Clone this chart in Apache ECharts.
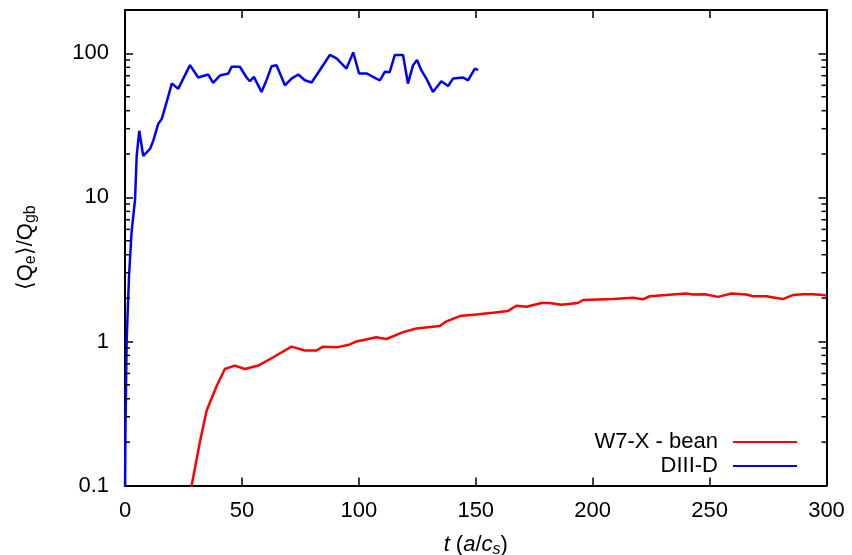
<!DOCTYPE html>
<html>
<head>
<meta charset="utf-8">
<script src="https://cdn.jsdelivr.net/npm/echarts@6/dist/echarts.min.js"></script>
<style>html,body{margin:0;padding:0;background:#fff}#c{width:852px;height:555px}</style>
</head>
<body>
<div id="c"></div>
<script>
// ---- data ----
var seriesNames = ['W7-X - bean', 'DIII-D'];
var redT = [27.5, 28.5, 32.1, 34.9, 39.2, 42.7, 47.0, 51.3, 57.0, 63.4, 71.2, 76.9, 81.9, 84.7, 90.5, 96.2, 99.0, 107.5, 111.8, 118.9, 124.6, 134.6, 137.5, 143.2, 150.3, 153.1, 157.4, 163.8, 167.4, 171.7, 178.1, 181.6, 186.6, 193.7, 195.9, 208.7, 217.2, 221.5, 224.4, 231.5, 240.0, 242.9, 247.9, 253.6, 259.3, 265.7, 268.5, 274.2, 281.3, 285.6, 289.9, 294.2, 298.5, 300];
var redV = [0.08, 0.1, 0.203, 0.33, 0.49, 0.644, 0.68, 0.644, 0.68, 0.777, 0.92, 0.865, 0.865, 0.92, 0.91, 0.953, 1.0, 1.07, 1.04, 1.16, 1.23, 1.28, 1.38, 1.5, 1.54, 1.56, 1.58, 1.63, 1.77, 1.74, 1.85, 1.85, 1.80, 1.85, 1.94, 1.97, 2.01, 1.96, 2.06, 2.1, 2.15, 2.12, 2.13, 2.04, 2.15, 2.12, 2.06, 2.06, 1.97, 2.1, 2.13, 2.13, 2.1, 2.08];
var blueT = [0, 0.2, 0.7, 1.7, 2.8, 4.3, 5.0, 6.1, 7.8, 10.7, 12.1, 14.2, 15.7, 17.8, 20.0, 22.8, 27.8, 31.3, 35.6, 37.7, 40.6, 44.2, 45.6, 49.1, 52.0, 53.4, 55.1, 58.4, 60.5, 62.7, 64.8, 68.4, 71.2, 74.1, 76.9, 79.8, 83.3, 87.6, 90.5, 94.7, 97.6, 100.1, 103.3, 107.5, 109.0, 111.1, 113.2, 115.4, 118.9, 121.0, 123.2, 124.9, 126.7, 128.9, 131.7, 135.3, 138.2, 140.3, 144.6, 146.7, 149.6, 151.0];
var blueV = [0.08, 0.25, 1.0, 2.8, 5.7, 9.7, 19.4, 29, 19.4, 21.7, 24.8, 32.4, 35, 45.9, 61.7, 56.9, 82.8, 68, 71.3, 62.4, 70.2, 72.5, 80.7, 80.7, 68, 64, 68.7, 54, 65, 81.5, 82.8, 60, 66.8, 71.3, 65, 62.8, 76.4, 97.5, 92.3, 78.5, 101.6, 72.5, 72.5, 66.8, 65, 74.5, 74, 97.5, 97.5, 61.7, 82.8, 89.8, 76.4, 66.8, 54, 64, 59.3, 66.8, 68, 65, 78.5, 76.4];
var xTicks = [0, 50, 100, 150, 200, 250, 300];
var yTickValues = [0.1, 1, 10, 100];
var yTickLabels = ['0.1', '1', '10', '100'];
var yMinorTicks = [0.2, 0.3, 0.4, 0.5, 0.6, 0.7, 0.8, 0.9, 2, 3, 4, 5, 6, 7, 8, 9, 20, 30, 40, 50, 60, 70, 80, 90];

function zip(a, b) { return a.map(function (v, i) { return [v, b[i]]; }); }

var FONT = '"Liberation Sans", Arial, Helvetica, sans-serif';
var chart = echarts.init(document.getElementById('c'), null, { renderer: 'canvas' });

function yLabel(v) {
  for (var i = 0; i < yTickValues.length; i++) {
    if (Math.abs(Math.log10(v) - Math.log10(yTickValues[i])) < 1e-6) return yTickLabels[i];
  }
  return '';
}

var axisLine = { show: true, onZero: false, lineStyle: { color: '#000', width: 2 } };
var tickStyle = { show: true, inside: true, length: 8, lineStyle: { color: '#000', width: 1.5 } };

var option = {
  animation: false,
  backgroundColor: '#fff',
  grid: { left: 125, right: 25.5, top: 10, bottom: 69.5, containLabel: false, outerBoundsMode: 'none' },
  legend: {
    data: seriesNames,
    orient: 'vertical',
    align: 'right',
    right: 55,
    top: 430,
    padding: 0,
    itemGap: 0,
    icon: 'rect',
    itemWidth: 64,
    itemHeight: 2,
    selectedMode: false,
    textStyle: { fontFamily: FONT, fontSize: 22, color: '#000', lineHeight: 24, padding: [0, 10, 0, 0] }
  },
  xAxis: [{
    type: 'value', min: 0, max: 300, interval: 50, position: 'bottom',
    axisLine: axisLine, axisTick: tickStyle, splitLine: { show: false },
    axisLabel: { fontFamily: FONT, fontSize: 22, color: '#000', margin: 14,
      formatter: function (v) { return xTicks.indexOf(v) >= 0 ? String(v) : ''; } },
    name: '{i|t} ({i|a}/{i|c}{sub|s})',
    nameLocation: 'middle', nameGap: 46,
    nameTextStyle: { fontFamily: FONT, fontSize: 22, color: '#000', lineHeight: 26,
      rich: {
        i: { fontFamily: FONT, fontSize: 22, fontStyle: 'italic', color: '#000', lineHeight: 26 },
        sub: { fontFamily: FONT, fontSize: 16, fontStyle: 'italic', color: '#000', lineHeight: 14, verticalAlign: 'bottom' }
      } }
  }, {
    type: 'value', min: 0, max: 300, interval: 50, position: 'top',
    axisLine: axisLine, axisTick: tickStyle, axisLabel: { show: false }, splitLine: { show: false }
  }],
  yAxis: [{
    type: 'log', logBase: 10, min: 0.1, max: 200, position: 'left',
    axisLine: axisLine, axisTick: tickStyle, splitLine: { show: false }, minorTick: { show: false },
    axisLabel: { fontFamily: FONT, fontSize: 22, color: '#000', margin: 16, showMaxLabel: false, formatter: yLabel },
    name: '⟨Q{sub|e}⟩/Q{sub|gb}',
    nameLocation: 'middle', nameGap: 86, nameRotate: 90,
    nameTextStyle: { fontFamily: FONT, fontSize: 22, color: '#000', lineHeight: 26,
      rich: {
        sub: { fontFamily: FONT, fontSize: 16, color: '#000', lineHeight: 12, verticalAlign: 'bottom' }
      } }
  }, {
    type: 'log', logBase: 10, min: 0.1, max: 200, position: 'right',
    axisLine: axisLine, axisTick: tickStyle, axisLabel: { show: false }, splitLine: { show: false }
  }],
  series: [{
    name: seriesNames[0], type: 'line', data: zip(redT, redV), showSymbol: false, symbol: 'none',
    lineStyle: { color: '#ff0000', width: 2.5 }, itemStyle: { color: '#ff0000' }, clip: true, z: 3
  }, {
    name: seriesNames[1], type: 'line', data: zip(blueT, blueV), showSymbol: false, symbol: 'none',
    lineStyle: { color: '#0000ff', width: 2.5 }, itemStyle: { color: '#0000ff' }, clip: true, z: 4
  }, {
    name: 'minorTicks', type: 'custom', silent: true, z: 10,
    data: yMinorTicks.map(function (v) { return [0, v]; }),
    renderItem: function (params, api) {
      var y = api.coord([0, api.value(1)])[1];
      var cs = params.coordSys;
      var st = { stroke: '#000', lineWidth: 1.5 };
      return { type: 'group', children: [
        { type: 'line', shape: { x1: cs.x, y1: y, x2: cs.x + 5, y2: y }, style: st },
        { type: 'line', shape: { x1: cs.x + cs.width - 5, y1: y, x2: cs.x + cs.width, y2: y }, style: st }
      ] };
    }
  }]
};
chart.setOption(option);
</script>
</body>
</html>
